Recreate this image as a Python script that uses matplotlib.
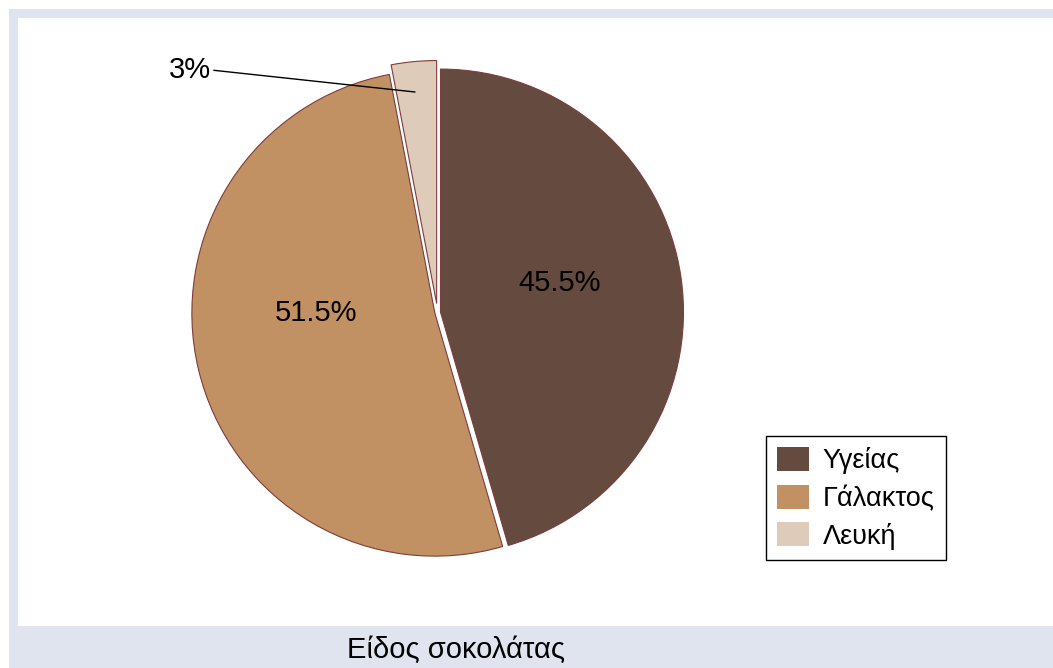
import matplotlib
matplotlib.use("Agg")
import matplotlib.pyplot as plt
from matplotlib.patches import Rectangle, Patch

plt.rcParams['font.family'] = ['Liberation Sans', 'DejaVu Sans']

categories = ['Υγείας', 'Γάλακτος', 'Λευκή']
values = [45.5, 51.5, 3.0]
pct_labels = ['45.5%', '51.5%', '3%']
colors = ['#654b3f', '#c19063', '#decbb9']
title = 'Είδος σοκολάτας'

W, H = 1053, 668
fig = plt.figure(figsize=(W / 100, H / 100), dpi=100)
ax = fig.add_axes([0, 0, 1, 1])

def Y(y):
    return H - y

band = '#dfe4ef'
# frame bands
ax.add_patch(Rectangle((9, Y(18)), W - 9, 9, color=band, lw=0, zorder=0))
ax.add_patch(Rectangle((9, 0), 9, Y(9), color=band, lw=0, zorder=0))
ax.add_patch(Rectangle((9, 0), W - 9, H - 626, color=band, lw=0, zorder=0))

R = 243
cx, cy = 437.5, 312.5
explode_px = [3.0, 2.7, 9.0]
wedges, _ = ax.pie(values, colors=colors, startangle=90, counterclock=False,
                   explode=explode_px, radius=R, center=(cx, Y(cy)),
                   frame=True,
                   wedgeprops=dict(edgecolor='#7e3c3c', linewidth=0.8))

ax.set_xlim(0, W)
ax.set_ylim(0, H)
ax.set_aspect('auto')
ax.axis('off')

fs = 21
ax.text(560, Y(283), pct_labels[0], fontsize=fs, ha='center', va='center', color='black')
ax.text(316, Y(313), pct_labels[1], fontsize=fs, ha='center', va='center', color='black')
ax.annotate(pct_labels[2], xy=(415, Y(92)), xytext=(211, Y(70)), fontsize=fs,
            ha='right', va='center',
            arrowprops=dict(arrowstyle='-', lw=1, color='black', shrinkA=0, shrinkB=0,
                            relpos=(1, 0.5)))

handles = [Patch(facecolor=c, edgecolor='none') for c in colors]
leg = ax.legend(handles, categories, loc='upper left',
                bbox_to_anchor=(766 / W, 1 - 436 / H), bbox_transform=fig.transFigure,
                borderaxespad=0, fancybox=False, edgecolor='black', framealpha=1,
                fontsize=19.5, handlelength=1.2, handleheight=1.0, labelspacing=0.38,
                handletextpad=0.5, borderpad=0.4)
leg.get_frame().set_linewidth(1.0)

ax.text(456, Y(650), title, fontsize=21, ha='center', va='center')

fig.savefig('out.png', dpi=100, facecolor='white')
